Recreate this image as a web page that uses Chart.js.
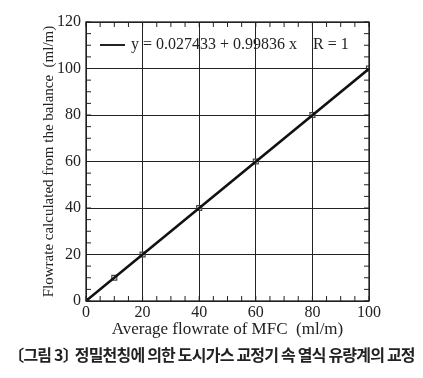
<!DOCTYPE html>
<html>
<head>
<meta charset="utf-8">
<script src="https://cdn.jsdelivr.net/npm/chart.js@4"></script>
<style>
  body { margin: 0; background: #fff; }
  #wrap { position: relative; width: 423px; height: 345px; }
  #caption {
    position: absolute; left: 0; top: 343px; width: 423px;
    text-align: center; font-family: "Noto Sans CJK KR", sans-serif;
    font-weight: bold; font-size: 16px; line-height: 22px; color: #222;
    letter-spacing: -0.8px; white-space: nowrap;
  }
  #caption .br { margin-right: -6px; }
</style>
</head>
<body>
<div id="wrap"><canvas id="chart" width="423" height="345"></canvas></div>
<div id="caption">〔그림 3<span class="br">〕</span> 정밀천칭에 의한 도시가스 교정기 속 열식 유량계의 교정</div>
<script>
// measured points (MFC vs balance)
const mfcFlow = [0, 10, 20, 40, 60, 80, 100];
const balanceFlow = [0, 10, 20, 40, 60, 80, 100];
// fitted line end points
const fitX = [0, 100];
const fitY = [0.03, 99.86];
const fitLabel = "y = 0.027433 + 0.99836 x    R = 1";

const xTitle = "Average flowrate of MFC\u2002(ml/m)";
const yTitle = "Flowrate calculated from the balance\u2002(ml/m)";

const serif = "'Liberation Serif', 'DejaVu Serif', serif";

const boxTicks = {
  id: "boxTicks",
  afterDraw(chart) {
    const { ctx, chartArea: a, scales } = chart;
    ctx.save();
    ctx.strokeStyle = "#222";
    ctx.lineWidth = 1;
    for (let v = 0; v <= 100; v += 5) {
      const px = scales.x.getPixelForValue(v);
      ctx.beginPath();
      ctx.moveTo(px, a.bottom); ctx.lineTo(px, a.bottom - 5);
      ctx.moveTo(px, a.top); ctx.lineTo(px, a.top + 5);
      ctx.stroke();
    }
    for (let v = 0; v <= 120; v += 5) {
      const py = scales.y.getPixelForValue(v);
      ctx.beginPath();
      ctx.moveTo(a.left, py); ctx.lineTo(a.left + 5, py);
      ctx.moveTo(a.right, py); ctx.lineTo(a.right - 5, py);
      ctx.stroke();
    }
    ctx.lineWidth = 1.3;
    ctx.strokeRect(a.left, a.top, a.right - a.left, a.bottom - a.top);

    // legend inside the plot
    const ly = a.top + 23;
    ctx.lineWidth = 2;
    ctx.beginPath();
    ctx.moveTo(a.left + 14, ly); ctx.lineTo(a.left + 39, ly);
    ctx.stroke();
    ctx.fillStyle = "#222";
    ctx.font = "16px " + serif;
    ctx.textBaseline = "middle";
    ctx.fillText(fitLabel, a.left + 45, ly);
    ctx.restore();
  }
};

const majorGrid = (step) => (c) => (c.tick && c.tick.value % step === 0) ? "#222" : "rgba(0,0,0,0)";

new Chart(document.getElementById("chart"), {
  type: "scatter",
  data: {
    datasets: [
      {
        label: "fit",
        data: fitX.map((x, i) => ({ x, y: fitY[i] })),
        showLine: true,
        borderColor: "#111",
        borderWidth: 2.5,
        pointRadius: 0
      },
      {
        label: "data",
        data: mfcFlow.map((x, i) => ({ x, y: balanceFlow[i] })),
        pointStyle: "rect",
        pointRadius: 3.5,
        borderColor: "#444",
        borderWidth: 1.2,
        backgroundColor: "rgba(255,255,255,0.5)"
      }
    ]
  },
  options: {
    responsive: false,
    animation: false,
    layout: { padding: { top: 22, right: 54, left: 0, bottom: 0 } },
    plugins: { legend: { display: false }, tooltip: { enabled: false } },
    scales: {
      x: {
        min: 0, max: 100,
        afterFit: (s) => { s.height = 44; },
        ticks: {
          stepSize: 5, autoSkip: false, maxRotation: 0, padding: 2,
          color: "#222", font: { family: serif, size: 16 },
          callback: (v) => v % 20 === 0 ? v : ""
        },
        grid: { color: majorGrid(20), drawTicks: false, lineWidth: 1 },
        border: { display: false },
        title: { display: true, text: xTitle, color: "#222", font: { family: serif, size: 17 }, padding: { top: 0, bottom: 5 } }
      },
      y: {
        min: 0, max: 120,
        afterFit: (s) => { s.width = 86; },
        ticks: {
          stepSize: 5, autoSkip: false, padding: 5,
          color: "#222", font: { family: serif, size: 16 },
          callback: (v) => v % 20 === 0 ? v : ""
        },
        grid: { color: majorGrid(20), drawTicks: false, lineWidth: 1 },
        border: { display: false },
        title: { display: true, text: yTitle, color: "#222", font: { family: serif, size: 15 }, padding: { top: 40, bottom: 0 } }
      }
    }
  },
  plugins: [boxTicks]
});
</script>
</body>
</html>
